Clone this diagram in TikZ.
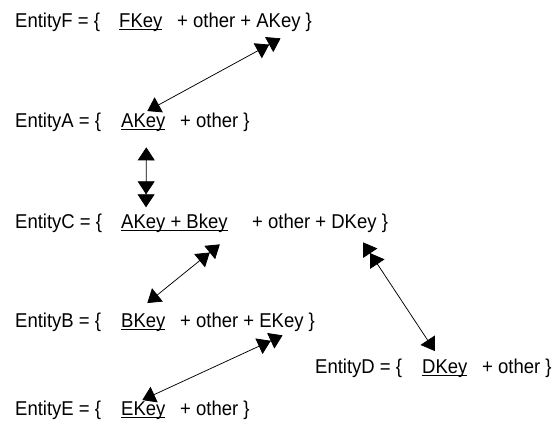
\documentclass[tikz,border=0pt]{standalone}
\usepackage{fontspec}
\setmainfont{Liberation Sans}[FakeStretch=0.925]
\usetikzlibrary{arrows.meta}
\newcommand{\pkey}[1]{\setbox0\hbox{#1}\rlap{\vrule height -2.2bp depth 3.4bp width \wd0}\box0}
\begin{document}
\begin{tikzpicture}
			[x=1bp,y=-1bp,every node/.style={inner sep=0pt,anchor=base west,font=\fontsize{20bp}{24bp}\selectfont},
			link/.style={line width=0.75bp,{Triangle[length=13bp,width=17bp]}-{Triangle[length=13bp,width=17bp]Triangle[length=13bp,width=17bp]}}]
			\useasboundingbox (0,0) rectangle (552,428);
			\node (F) at (15,27) {EntityF = \{};
			\node (Fkey) at (119,27) {\pkey{FKey}};
			\node (Frest) at (177,27) {+ other + AKey \}};
			\node (A) at (15,127) {EntityA = \{};
			\node (Akey) at (121,127) {\pkey{AKey}};
			\node (Arest) at (180,127) {+ other \}};
			\node (C) at (15,228) {EntityC = \{};
			\node (Ckey) at (121,228) {\pkey{AKey + Bkey}};
			\node (Crest) at (252,228) {+ other + DKey \}};
			\node (B) at (15,327) {EntityB = \{};
			\node (Bkey) at (121,327) {\pkey{BKey}};
			\node (Brest) at (180,327) {+ other + EKey \}};
			\node (D) at (315,373) {EntityD = \{};
			\node (Dkey) at (422,373) {\pkey{DKey}};
			\node (Drest) at (482,373) {+ other \}};
			\node (E) at (15,415) {EntityE = \{};
			\node (Ekey) at (121,415) {\pkey{EKey}};
			\node (Erest) at (180,415) {+ other \}};
			\draw [link] ([shift={(4,-2)}]Akey.north) to ([shift={(36,7)}]Frest.south);
			\draw [link] ([shift={(3,16)}]Akey.south) to ([shift={(25,-6)}]Ckey.north west);
			\draw [link] ([shift={(4,-10)}]Bkey.north) to ([shift={(-8,12)}]Ckey.south east);
			\draw [link] ([shift={(-1,-1)}]Ekey.north) to ([shift={(35,4)}]Brest.south);
			\draw [link] ([shift={(-10,-8)}]Dkey.north) to ([shift={(43,10)}]Crest.south);
		\end{tikzpicture}
\end{document}
